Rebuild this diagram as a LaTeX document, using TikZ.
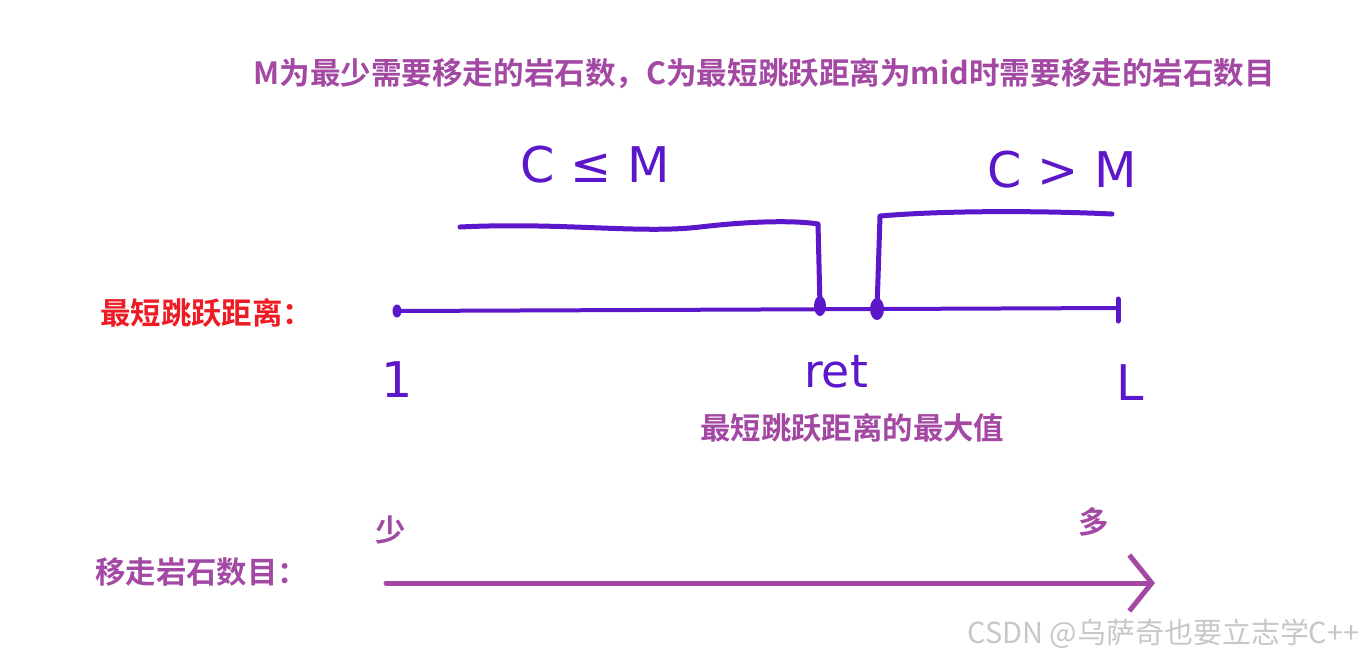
\documentclass[tikz,border=0pt]{standalone}
\usepackage{fontspec}
\usetikzlibrary{arrows.meta}
\newfontfamily\cjk{Noto Sans CJK SC}[BoldFont={Noto Sans CJK SC Bold}]
\newfontfamily\hand{DejaVu Sans}
\definecolor{penviolet}{HTML}{5B17C9}
\definecolor{notepurple}{HTML}{A349A4}
\definecolor{notered}{HTML}{ED1C24}

\begin{document}
\begin{tikzpicture}[x=0.02cm,y=-0.02cm,>={Straight Barb[length=0.45cm,width=1.12cm]},
 note/.style={font=\cjk\bfseries\fontsize{17.3}{20}\selectfont,text=notepurple,inner sep=0pt},
 hw/.style={font=\hand\fontsize{28}{32}\selectfont,text=penviolet,inner sep=0pt},
 pen/.style={penviolet,line width=0.1cm,line cap=round,line join=round}]
\path[use as bounding box] (0,0) rectangle (1364,657);
\node[note,anchor=west,font=\cjk\bfseries\fontsize{17.4}{20}\selectfont] (title) at (253,73) {M为最少需要移走的岩石数，C为最短跳跃距离为mid时需要移走的岩石数目};
\node[hw] (le) at (595,165) {C ≤ M};
\node[hw] (gt) at (1062,170) {C > M};
\coordinate (start) at (397,311);\coordinate (retL) at (820,306);
\coordinate (retR) at (877,309);\coordinate (end) at (1118,308);
\coordinate (lowA) at (460,227);\coordinate (lowB) at (818,224);
\coordinate (highA) at (880,216);\coordinate (highB) at (1112,214);
\draw[pen,line width=0.08cm] (start) -- (end);
\draw[pen] (lowA) .. controls (560,222) and (640,234) .. (700,227) .. controls (760,220) and (800,221) .. (lowB) -- (retL);
\draw[pen] (retR) -- (highA) .. controls (950,210) and (1050,211) .. (highB);
\fill[penviolet] (start) ellipse [x radius=0.09cm,y radius=0.13cm];
\fill[penviolet] (retL) ellipse [x radius=0.12cm,y radius=0.2cm];
\fill[penviolet] (retR) ellipse [x radius=0.14cm,y radius=0.22cm];
\draw[pen] (end) ++(0,-9) -- ++(0,22);
\node[note,text=notered,anchor=west] (distlbl) at (100,313) {最短跳跃距离：};
\node[hw] (one) at (397,380) {1};
\node[hw,font=\hand\fontsize{26}{30}\selectfont] (retlbl) at (836,372) {ret};
\node[hw] (len) at (1130,383) {L};
\node[note,anchor=west] (maxlbl) at (700,428) {最短跳跃距离的最大值};
\node[note] (few) at (391,530) {少};
\node[note] (many) at (1094,522) {多};
\node[note,anchor=west] (movelbl) at (95,572) {移走岩石数目：};
\coordinate (fewend) at (386,583);\coordinate (manyend) at (1155,583);
\draw[->,notepurple,line width=0.1cm,line cap=round] (fewend) -- (manyend);
\node[font=\cjk\fontsize{16.5}{18}\selectfont,text=black!22,anchor=east,inner sep=0pt] (mark) at (1360,634) {CSDN @乌萨奇也要立志学C++};
\end{tikzpicture}
\end{document}
